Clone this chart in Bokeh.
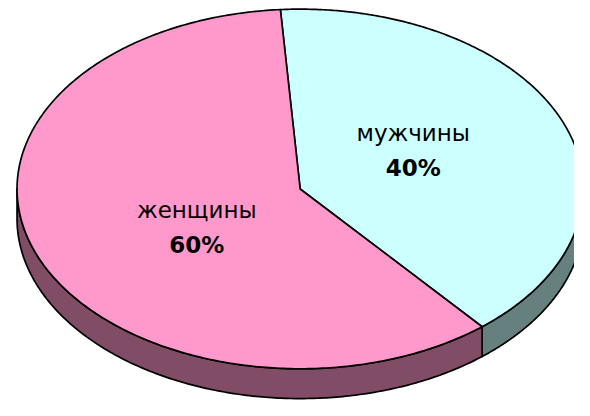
import numpy as np
from bokeh.plotting import figure
from bokeh.models import Range1d, ColumnDataSource
from bokeh.embed import file_html
from bokeh.resources import INLINE
from bokeh.core.properties import value

# ---- data ----
categories = ["мужчины", "женщины"]
values = [40, 60]
top_colors = ["#CCFFFF", "#FF99CC"]
side_colors = ["#668080", "#804C66"]

# ---- layout ----
W, H = 574, 400            # fits the 590x416 window with its 8px page margin
REF_W, REF_H = 590, 416    # drawing space (reference picture pixels)
CX, CY = 308.0, 196.0
RX, RY = 291.0, 187.0
DEPTH = 31.0
START_DEG = 94.0
LABEL_RX, LABEL_RY = 120.0, 107.0
LABEL_DX = 5.0
LINE_GAP = 18.0
FONT = "DejaVu Sans"
FONT_SIZE = "23px"

total = float(sum(values))


def ell(theta_deg, dy=0.0):
    t = np.radians(theta_deg)
    return CX + RX * np.cos(t), CY - RY * np.sin(t) + dy


top_xs, top_ys = [], []
side_xs, side_ys, side_cols = [], [], []
lab_x, lab_y = [], []
cum = 0.0
for cat, v, tc, sc in zip(categories, values, top_colors, side_colors):
    a0 = START_DEG - cum / total * 360.0
    a1 = a0 - v / total * 360.0
    cum += v
    th = np.linspace(a0, a1, 300)
    x, y = ell(th)
    top_xs.append([CX] + list(x) + [CX])
    top_ys.append([CY] + list(y) + [CY])
    # visible side (front half of the disc)
    for k in range(-2, 3):
        lo = max(a1, -180.0 + 360.0 * k)
        hi = min(a0, 0.0 + 360.0 * k)
        if hi > lo:
            t2 = np.linspace(lo, hi, 200)
            xt, yt = ell(t2)
            xb, yb = ell(t2[::-1], DEPTH)
            side_xs.append(list(xt) + list(xb))
            side_ys.append(list(yt) + list(yb))
            side_cols.append(sc)
    mid = np.radians((a0 + a1) / 2.0)
    lab_x.append(CX + LABEL_DX + LABEL_RX * np.cos(mid))
    lab_y.append(CY - LABEL_RY * np.sin(mid))

p = figure(width=W, height=H, output_backend="svg", toolbar_location=None,
           x_range=Range1d(0, REF_W), y_range=Range1d(REF_H, 0),
           min_border=0)
p.axis.visible = False
p.grid.visible = False
p.outline_line_color = None
p.background_fill_color = "white"
p.border_fill_color = "white"

p.patches(side_xs, side_ys, fill_color=side_cols, line_color="black",
          line_width=1.7, line_join="round")
p.patches(top_xs, top_ys, fill_color=top_colors, line_color="black",
          line_width=1.7, line_join="round")

src = ColumnDataSource(dict(
    x=lab_x,
    yn=[y - LINE_GAP for y in lab_y],
    yp=[y + LINE_GAP for y in lab_y],
    name=categories,
    pct=[f"{v}%" for v in values],
))
p.text(x="x", y="yn", text="name", source=src, text_font=value(FONT),
       text_font_size=FONT_SIZE, text_align="center", text_baseline="middle",
       text_color="black")
p.text(x="x", y="yp", text="pct", source=src, text_font=value(FONT),
       text_font_size=FONT_SIZE, text_font_style="bold", text_align="center",
       text_baseline="middle", text_color="black")

open("out.html", "w").write(file_html(p, INLINE))
